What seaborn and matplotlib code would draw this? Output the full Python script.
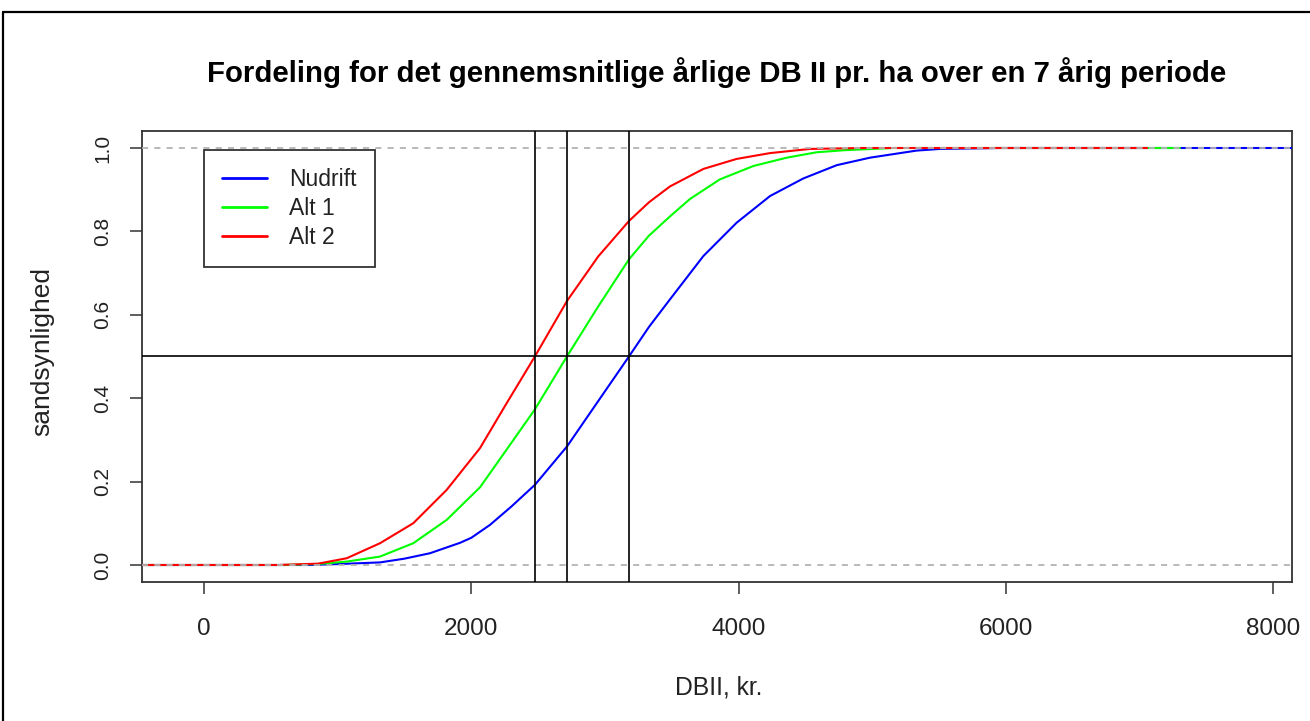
import matplotlib
matplotlib.use("Agg")
import matplotlib.pyplot as plt
from matplotlib.lines import Line2D
import seaborn as sns
import pandas as pd

# ---- data ----
series_names = ["Nudrift", "Alt 1", "Alt 2"]
series_colors = ["#0000FF", "#00FF00", "#FF0000"]

nudrift_x = [800, 1000, 1317, 1500, 1691, 1916, 2000, 2140, 2300, 2476, 2716, 2950, 3180,
             3330, 3487, 3737, 3986, 4236, 4484, 4735, 4984, 5333, 5508, 5919]
nudrift_y = [0.0, 0.002, 0.006, 0.015, 0.028, 0.053, 0.065, 0.096, 0.14, 0.192, 0.284, 0.393, 0.5,
             0.571, 0.637, 0.741, 0.821, 0.885, 0.927, 0.959, 0.977, 0.994, 0.998, 1.0]

alt1_x = [610, 850, 1068, 1317, 1566, 1816, 2065, 2250, 2476, 2716, 2950, 3180,
          3330, 3487, 3637, 3861, 4111, 4361, 4585, 4797, 5146]
alt1_y = [0.0, 0.002, 0.008, 0.02, 0.052, 0.108, 0.186, 0.27, 0.373, 0.5, 0.62, 0.733,
          0.79, 0.836, 0.878, 0.925, 0.957, 0.977, 0.99, 0.995, 1.0]

alt2_x = [570, 853, 1068, 1317, 1566, 1816, 2065, 2250, 2476, 2716, 2950, 3180,
          3330, 3487, 3737, 3986, 4236, 4535, 4884]
alt2_y = [0.0, 0.003, 0.016, 0.052, 0.100, 0.180, 0.280, 0.38, 0.5, 0.633, 0.74, 0.825,
          0.87, 0.908, 0.950, 0.974, 0.988, 0.998, 1.0]

# horizontal extensions of each step function (left start, right end)
ext_left = [-600, -600, -600]
ext_right = [8300, 7302, 7055]

medians = [2476, 2716, 3180]
x_ticks = [0, 2000, 4000, 6000, 8000]
y_ticks = [0.0, 0.2, 0.4, 0.6, 0.8, 1.0]
y_tick_labels = ["0.0", "0.2", "0.4", "0.6", "0.8", "1.0"]

title = "Fordeling for det gennemsnitlige årlige DB II pr. ha over en 7 årig periode"
xlabel = "DBII, kr."
ylabel = "sandsynlighed"

# ---- plotting ----
sns.set_theme(style="ticks")
plt.rcParams["font.family"] = ["Liberation Sans", "DejaVu Sans"]

W, H = 1310, 721
fig = plt.figure(figsize=(W / 100, H / 100), dpi=100)
ax = fig.add_axes([142 / W, 1 - 582 / H, 1150 / W, 451 / H])

xs = [nudrift_x, alt1_x, alt2_x]
ys = [nudrift_y, alt1_y, alt2_y]

handles = []
for i, (name, col) in enumerate(zip(series_names, series_colors)):
    df = pd.DataFrame({"x": xs[i], "y": ys[i]})
    sns.lineplot(data=df, x="x", y="y", ax=ax, color=col, linewidth=1.5,
                 estimator=None, sort=False, zorder=3 + i)
    # flat extensions at 0 and 1
    ext = pd.DataFrame({"x": [ext_left[i], xs[i][0]], "y": [0.0, 0.0]})
    sns.lineplot(data=ext, x="x", y="y", ax=ax, color=col, linewidth=1.5,
                 estimator=None, zorder=3 + i)
    ext2 = pd.DataFrame({"x": [xs[i][-1], ext_right[i]], "y": [1.0, 1.0]})
    sns.lineplot(data=ext2, x="x", y="y", ax=ax, color=col, linewidth=1.5,
                 estimator=None, zorder=3 + i)
    handles.append(Line2D([0], [0], color=col, linewidth=2.0, label=name))

# gray dashed 0/1 lines on top
for yv in (0.0, 1.0):
    ax.axhline(yv, color="#B3B3B3", linewidth=1.3, linestyle=(0, (3.4, 3.4)), zorder=7)

for m in medians:
    ax.axvline(m, color="black", linewidth=1.2, zorder=8)
ax.axhline(0.5, color="black", linewidth=1.2, zorder=8)

ax.set_xlim(-464, 8142)
ax.set_ylim(-0.041, 1.041)
ax.set_xticks(x_ticks)
ax.set_xticklabels([str(t) for t in x_ticks], fontsize=17.5)
ax.set_yticks(y_ticks)
ax.set_yticklabels(y_tick_labels, fontsize=15, rotation=90, va="center")
ax.tick_params(axis="x", length=8.6, width=1.1, color="#333333", pad=17, labelcolor="#222222")
ax.tick_params(axis="y", length=8.6, width=1.1, color="#333333", pad=13, labelcolor="#222222")
for s in ax.spines.values():
    s.set_visible(True)
    s.set_color("#333333")
    s.set_linewidth(1.3)

ax.set_xlabel("")
ax.set_ylabel("")
fig.text(719 / W, 1 - 688 / H, xlabel, ha="center", va="center", fontsize=17.8, color="#222222")
fig.text(42 / W, 1 - 351 / H, ylabel, ha="center", va="center", fontsize=19,
         rotation=90, color="#222222")
fig.text(717 / W, 1 - 73 / H, title, ha="center", va="center", fontsize=21.2,
         fontweight="bold", color="black")

leg = ax.legend(handles=handles, loc="upper left",
                bbox_to_anchor=((204 - 142) / 1150, (582 - 150) / 451),
                frameon=True, fancybox=False, shadow=False, fontsize=16.5,
                handlelength=1.95, handletextpad=0.95, borderpad=0.8,
                labelspacing=0.25, borderaxespad=0)
leg.get_frame().set_edgecolor("black")
leg.get_frame().set_linewidth(1.3)
for t in leg.get_texts():
    t.set_color("#222222")

# screenshot frame lines (left and top)
fig.add_artist(Line2D([3 / W, 3 / W], [0, 1 - 12 / H], color="black", linewidth=1.6,
                      transform=fig.transFigure))
fig.add_artist(Line2D([3 / W, 1], [1 - 12 / H, 1 - 12 / H], color="black", linewidth=1.6,
                      transform=fig.transFigure))

fig.savefig("out.png", dpi=100, facecolor="white")
